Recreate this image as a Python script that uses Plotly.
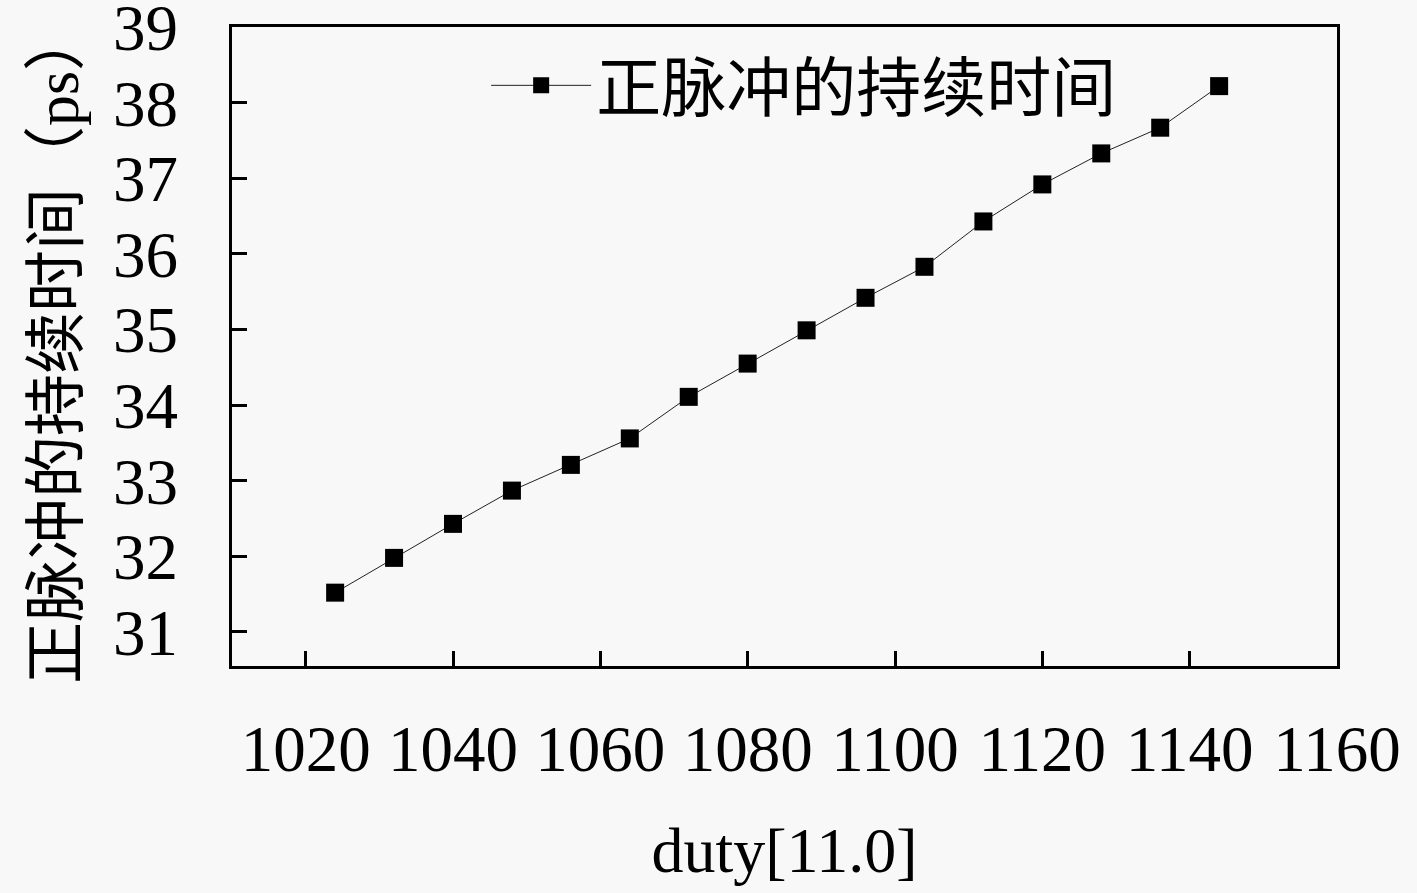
import plotly.graph_objects as go

duty = [1024, 1032, 1040, 1048, 1056, 1064, 1072, 1080, 1088, 1096, 1104, 1112, 1120, 1128, 1136, 1144]
pulse_ps = [31.52, 31.98, 32.43, 32.87, 33.21, 33.56, 34.11, 34.55, 34.99, 35.42, 35.83, 36.43, 36.92, 37.33, 37.67, 38.22]
series_name = "正脉冲的持续时间"
x_title = "duty[11.0]"
y_title = "正脉冲的持续时间（ps）"
x_ticks = [1020, 1040, 1060, 1080, 1100, 1120, 1140, 1160]
y_ticks = [31, 32, 33, 34, 35, 36, 37, 38, 39]

FONT = "Liberation Serif, Noto Sans CJK SC, serif"
BG = "#f8f8f8"

fig = go.Figure()
fig.add_trace(go.Scatter(
    x=duty, y=pulse_ps, mode="lines+markers", name=series_name,
    line=dict(color="#222222", width=1),
    marker=dict(symbol="square", size=18, color="black"),
))

fig.update_layout(
    width=1417, height=893,
    paper_bgcolor=BG, plot_bgcolor=BG,
    margin=dict(l=232, r=80, t=27, b=227, autoexpand=False),
    font=dict(family=FONT, color="black", size=64),
    showlegend=True,
    legend=dict(x=0.23, y=0.985, xanchor="left", yanchor="top",
                bgcolor="rgba(0,0,0,0)", font=dict(size=65, family=FONT),
                itemwidth=100),
    xaxis=dict(range=[1010, 1160], tickvals=x_ticks, ticks="inside", ticklen=15, tickwidth=3,
               tickcolor="black", showline=True, linewidth=3, linecolor="black", mirror=True,
               showgrid=False, zeroline=False, tickfont=dict(size=65, family=FONT),
               ticklabelstandoff=24, ticklabeloverflow="allow", automargin=False,
               title=dict(text=x_title, font=dict(size=64, family=FONT), standoff=44)),
    yaxis=dict(range=[30.55, 39.002], tickvals=y_ticks, ticks="inside", ticklen=15, tickwidth=3,
               tickcolor="black", showline=True, linewidth=3, linecolor="black", mirror=True,
               showgrid=False, zeroline=False, tickfont=dict(size=65, family=FONT),
               ticklabelstandoff=38, ticklabeloverflow="allow", automargin=False,
               title=dict(text=y_title, font=dict(size=62, family=FONT), standoff=15)),
)

fig.write_html(
    "out.html",
    config={"displayModeBar": False},
    post_script="document.body.style.margin='0';document.body.style.background='%s';" % BG,
)
